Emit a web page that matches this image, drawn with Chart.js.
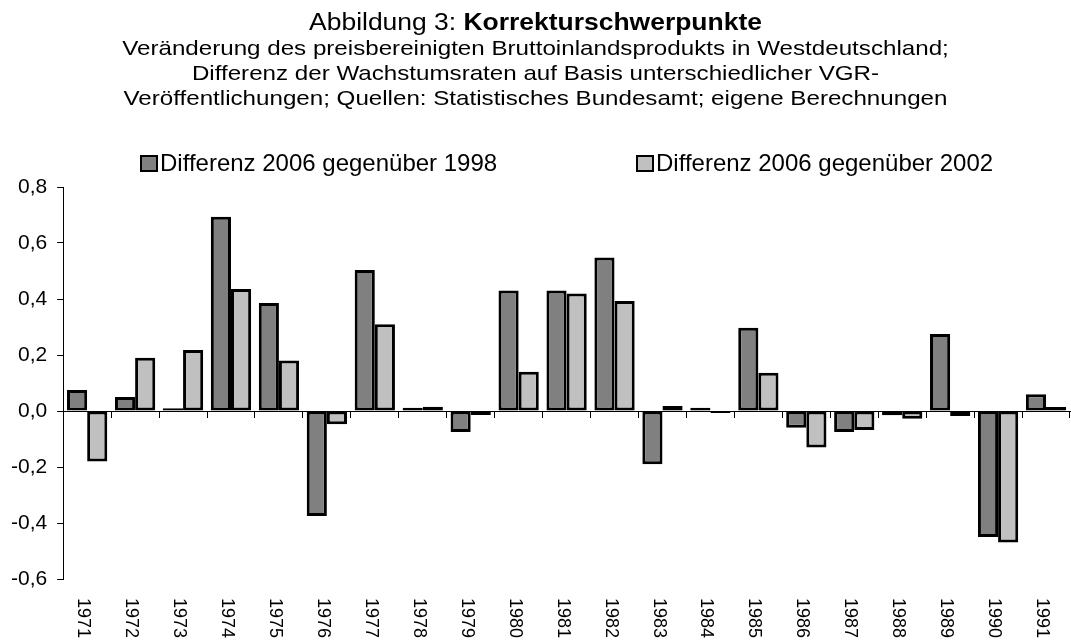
<!DOCTYPE html>
<html>
<head>
<meta charset="utf-8">
<script src="https://cdn.jsdelivr.net/npm/chart.js@4.4.1/dist/chart.umd.min.js"></script>
<style>
  html, body { margin: 0; padding: 0; background: #fff; }
  #wrap { position: relative; width: 1071px; height: 642px; }
  #chart { position: absolute; left: 0; top: 0; }
  #title { position: absolute; left: 0; top: 9.5px; width: 1071px; color: #000;
           font-family: 'Liberation Sans', Arial, sans-serif; }
  #title div { text-align: center; height: 25px; line-height: 25px; font-size: 21px;
               white-space: nowrap; transform: scaleX(1.15); transform-origin: 50% 50%; }
  #title div.head { font-size: 23px; }
</style>
</head>
<body>
<div id="wrap">
  <canvas id="chart" width="1071" height="642"></canvas>
  <div id="title">
    <div class="head">Abbildung 3: <b>Korrekturschwerpunkte</b></div>
    <div>Veränderung des preisbereinigten Bruttoinlandsprodukts in Westdeutschland;</div>
    <div>Differenz der Wachstumsraten auf Basis unterschiedlicher VGR-</div>
    <div>Veröffentlichungen; Quellen: Statistisches Bundesamt; eigene Berechnungen</div>
  </div>
</div>
<script>
const years = ['1971','1972','1973','1974','1975','1976','1977','1978','1979','1980','1981',
               '1982','1983','1984','1985','1986','1987','1988','1989','1990','1991'];
const diff1998 = [0.075, 0.05, 0.01, 0.694, 0.386, -0.375, 0.504, 0.012, -0.075, 0.43, 0.43,
                  0.548, -0.19, 0.012, 0.297, -0.06, -0.075, -0.015, 0.275, -0.45, 0.06];
const diff2002 = [-0.18, 0.19, 0.218, 0.436, 0.18, -0.047, 0.31, 0.015, -0.014, 0.14, 0.42,
                  0.393, 0.018, -0.007, 0.137, -0.13, -0.068, -0.028, -0.018, -0.47, 0.014];
const seriesNames = ['Differenz 2006 gegenüber 1998', 'Differenz 2006 gegenüber 2002'];
const yMin = -0.6, yMax = 0.8, yStep = 0.2;

const FONT = "'Liberation Sans', Arial, sans-serif";

// year labels drawn top-to-bottom, like the original
const yearLabels = {
  id: 'yearLabels',
  afterDraw(chart) {
    const x = chart.scales.x, ctx = chart.ctx;
    ctx.save();
    ctx.font = '18px ' + FONT;
    ctx.fillStyle = '#000';
    ctx.textAlign = 'left';
    ctx.textBaseline = 'middle';
    years.forEach((yr, i) => {
      ctx.save();
      ctx.translate(x.getPixelForValue(i) - 4, chart.chartArea.bottom + 19);
      ctx.rotate(Math.PI / 2);
      ctx.fillText(yr, 0, 0);
      ctx.restore();
    });
    ctx.restore();
  }
};

// legend with the wide gap of the original
const wideLegend = {
  id: 'wideLegend',
  afterDraw(chart) {
    const ctx = chart.ctx;
    const xs = [141, 637];
    ctx.save();
    ctx.font = '24px ' + FONT;
    ctx.textBaseline = 'middle';
    chart.data.datasets.forEach((ds, i) => {
      ctx.fillStyle = ds.backgroundColor;
      ctx.fillRect(xs[i], 156, 16, 15);
      ctx.strokeStyle = '#000';
      ctx.lineWidth = 2;
      ctx.strokeRect(xs[i], 156, 16, 15);
      ctx.fillStyle = '#000';
      ctx.fillText(ds.label, xs[i] + 19, 164);
    });
    ctx.restore();
  }
};

new Chart(document.getElementById('chart').getContext('2d'), {
  type: 'bar',
  data: {
    labels: years,
    datasets: [
      { label: seriesNames[0], data: diff1998, backgroundColor: '#808080', borderColor: '#000', borderWidth: 3, borderSkipped: false },
      { label: seriesNames[1], data: diff2002, backgroundColor: '#c0c0c0', borderColor: '#000', borderWidth: 3, borderSkipped: false }
    ]
  },
  options: {
    responsive: false,
    animation: false,
    categoryPercentage: 0.84,
    barPercentage: 1,
    layout: { padding: { top: 187, bottom: 63, left: 1, right: 1 } },
    plugins: { legend: { display: false }, title: { display: false }, tooltip: { enabled: false } },
    scales: {
      x: {
        position: { y: 0 },
        offset: true,
        ticks: { display: false },
        grid: { offset: true, drawOnChartArea: false, tickLength: 6, color: '#000' },
        border: { display: true, color: '#000', width: 1 }
      },
      y: {
        min: yMin, max: yMax,
        ticks: {
          stepSize: yStep, color: '#000', padding: 10,
          font: { family: FONT, size: 21 },
          callback: v => v.toFixed(1).replace('.', ',')
        },
        grid: { drawOnChartArea: false, tickLength: 6, color: '#000' },
        border: { display: true, color: '#000', width: 1 }
      }
    }
  },
  plugins: [yearLabels, wideLegend]
});
</script>
</body>
</html>
